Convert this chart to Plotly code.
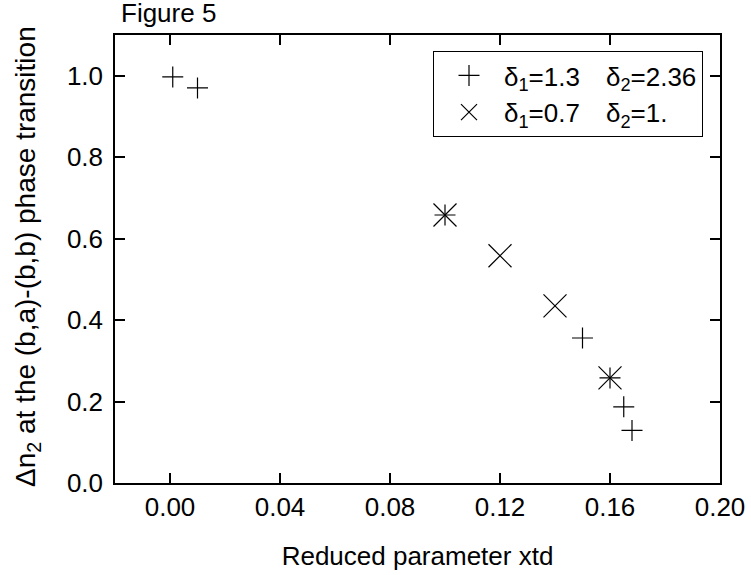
import plotly.graph_objects as go

# Series 1: delta1=1.3, delta2=2.36 (plus markers)
plus_x = [0.001, 0.01, 0.10, 0.15, 0.16, 0.165, 0.168]
plus_y = [0.997, 0.970, 0.658, 0.356, 0.258, 0.187, 0.129]

# Series 2: delta1=0.7, delta2=1. (cross markers)
cross_x = [0.10, 0.12, 0.14, 0.16]
cross_y = [0.658, 0.558, 0.435, 0.258]

x_ticks = [0.00, 0.04, 0.08, 0.12, 0.16, 0.20]
y_ticks = [0.0, 0.2, 0.4, 0.6, 0.8, 1.0]

FONT = "Liberation Sans, Arial, sans-serif"
FS = 26

fig = go.Figure()
fig.add_trace(go.Scatter(
    x=plus_x, y=plus_y, mode="markers",
    name="δ<sub>1</sub>=1.3\u2003δ<sub>2</sub>=2.36",
    marker=dict(symbol="cross-thin-open", size=15, color="black",
                line=dict(color="black", width=1.2)),
))
fig.add_trace(go.Scatter(
    x=cross_x, y=cross_y, mode="markers",
    name="δ<sub>1</sub>=0.7\u2003δ<sub>2</sub>=1.",
    marker=dict(symbol="x-thin-open", size=23, color="black",
                line=dict(color="black", width=1.2)),
))

axis_common = dict(
    showline=True, linecolor="black", linewidth=1.5,
    mirror="ticks", ticks="inside", ticklen=10, tickwidth=1.5,
    tickcolor="black", showgrid=False, zeroline=False,
    tickfont=dict(family=FONT, size=FS, color="black"),
)

fig.update_xaxes(
    range=[-0.02, 0.20], tickvals=x_ticks,
    ticktext=[f"{v:.2f}" for v in x_ticks],
    title=dict(text="Reduced parameter xtd", standoff=26,
               font=dict(family=FONT, size=FS, color="black")),
    automargin=False,
    **axis_common,
)
fig.update_yaxes(
    range=[0.0, 1.1], tickvals=y_ticks,
    ticktext=[f"{v:.1f}" for v in y_ticks],
    automargin=False, ticklabelstandoff=5,
    **axis_common,
)

fig.add_annotation(
    text="Δn<sub>2</sub> at the (b,a)-(b,b) phase transition",
    textangle=-90, xref="paper", yref="paper",
    x=(8 - 115) / 605, y=(483 - 489) / 448,
    xanchor="left", yanchor="bottom", showarrow=False,
    font=dict(family=FONT, size=28, color="black"),
)

fig.update_layout(
    width=751, height=575,
    margin=dict(l=115, r=31, t=35, b=92),
    plot_bgcolor="white", paper_bgcolor="white",
    font=dict(family=FONT, size=FS, color="black"),
    title=dict(text="Figure 5", xref="container", yref="container",
               x=121 / 751, y=1 - 4 / 575, xanchor="left", yanchor="top",
               pad=dict(t=0, l=0, b=0, r=0),
               font=dict(family=FONT, size=FS, color="black")),
    showlegend=True,
    legend=dict(x=(433 - 115) / 605, y=(483 - 51) / 448,
                xanchor="left", yanchor="top",
                bordercolor="black", borderwidth=1, bgcolor="white",
                font=dict(family=FONT, size=FS, color="black"),
                itemwidth=60, tracegroupgap=0),
)

fig.write_html("out.html",
               config={"displayModeBar": False},
               post_script="document.body.style.margin='0';document.body.style.padding='0';")
